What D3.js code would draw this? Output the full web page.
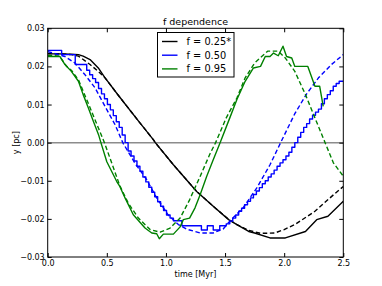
<!DOCTYPE html>
<html><head><meta charset="utf-8">
<script src="https://cdn.jsdelivr.net/npm/d3@7"></script>
<style>body{margin:0;background:#fff;}svg{display:block;font-family:"DejaVu Sans",sans-serif;}</style>
</head><body>
<script>
const title = "f dependence";
const xLabel = "time [Myr]";
const yLabel = "y [pc]";
const xTicks = [0.0, 0.5, 1.0, 1.5, 2.0, 2.5];
const yTicks = [-0.03, -0.02, -0.01, 0.0, 0.01, 0.02, 0.03];
const legendLabels = ["f = 0.25*", "f = 0.50", "f = 0.95"];
const colors = ["#000000", "#0000ff", "#008000"];

// f = 0.25* solid
const blackSolidT = [0, 0.1, 0.2, 0.26, 0.3, 0.358, 0.428, 0.485, 0.6, 0.78, 0.893, 0.91, 1.063, 1.26, 1.4, 1.53, 1.6, 1.7, 1.75, 1.88, 2.01, 2.18, 2.275, 2.37, 2.5];
const blackSolidY = [0.0233, 0.0233, 0.0232, 0.0231, 0.0227, 0.0218, 0.0196, 0.0170, 0.0123, 0.0052, 0.0008, 0.0, -0.0058, -0.0128, -0.0167, -0.0202, -0.0215, -0.0233, -0.0237, -0.0250, -0.0250, -0.0233, -0.0202, -0.0193, -0.0154];
// f = 0.25* dashed
const blackDashT = [0, 0.1, 0.2, 0.26, 0.358, 0.428, 0.485, 0.6, 0.78, 0.893, 0.91, 1.063, 1.26, 1.4, 1.53, 1.6, 1.7, 1.8, 1.92, 2.0, 2.09, 2.26, 2.42, 2.5];
const blackDashY = [0.0234, 0.0233, 0.0231, 0.0227, 0.0205, 0.0187, 0.0170, 0.0123, 0.0052, 0.0008, 0.0, -0.0058, -0.0128, -0.0167, -0.0201, -0.0215, -0.0230, -0.0238, -0.0237, -0.0228, -0.0215, -0.0180, -0.0136, -0.0115];
// f = 0.50 solid (stepped)
const blueSolidT = [0.000, 0.118, 0.233, 0.330, 0.355, 0.380, 0.405, 0.430, 0.455, 0.480, 0.505, 0.530, 0.555, 0.580, 0.605, 0.630, 0.655, 0.680, 0.705, 0.730, 0.755, 0.780, 0.805, 0.830, 0.855, 0.880, 0.905, 0.930, 0.955, 0.980, 1.005, 1.035, 1.063, 1.135, 1.300, 1.350, 1.400, 1.455, 1.510, 1.540, 1.565, 1.590, 1.615, 1.640, 1.665, 1.690, 1.715, 1.740, 1.765, 1.790, 1.815, 1.840, 1.865, 1.890, 1.915, 1.940, 1.965, 1.990, 2.015, 2.040, 2.065, 2.090, 2.115, 2.140, 2.165, 2.190, 2.215, 2.240, 2.265, 2.290, 2.315, 2.340, 2.365, 2.390, 2.415, 2.440, 2.465, 2.500];
const blueSolidY = [0.0242, 0.0231, 0.0205, 0.0190, 0.0178, 0.0168, 0.0158, 0.0142, 0.0128, 0.0115, 0.0100, 0.0086, 0.0071, 0.0055, 0.0040, 0.0020, 0.0000, -0.0022, -0.0035, -0.0048, -0.0062, -0.0075, -0.0090, -0.0103, -0.0117, -0.0130, -0.0142, -0.0155, -0.0167, -0.0178, -0.0190, -0.0198, -0.0205, -0.0218, -0.0229, -0.0218, -0.0229, -0.0218, -0.0213, -0.0206, -0.0198, -0.0190, -0.0180, -0.0172, -0.0163, -0.0154, -0.0145, -0.0136, -0.0127, -0.0118, -0.0108, -0.0100, -0.0090, -0.0082, -0.0072, -0.0062, -0.0053, -0.0045, -0.0035, -0.0025, -0.0012, 0.0000, 0.0014, 0.0027, 0.0040, 0.0050, 0.0062, 0.0072, 0.0080, 0.0088, 0.0102, 0.0115, 0.0126, 0.0136, 0.0148, 0.0155, 0.0161, 0.0161];
// f = 0.50 dashed
const blueDashT = [0, 0.146, 0.23, 0.316, 0.4, 0.485, 0.57, 0.635, 0.74, 0.837, 0.922, 1.02, 1.105, 1.176, 1.29, 1.4, 1.486, 1.54, 1.655, 1.77, 1.88, 1.97, 2.09, 2.19, 2.29, 2.4, 2.5];
const blueDashY = [0.0239, 0.0226, 0.0209, 0.0178, 0.0144, 0.0095, 0.0047, 0.0, -0.0055, -0.0097, -0.0145, -0.0190, -0.0215, -0.0227, -0.0237, -0.0237, -0.0226, -0.0206, -0.0170, -0.0118, -0.0058, 0.0, 0.0076, 0.0128, 0.0170, 0.0205, 0.0231];
// f = 0.95 solid
const greenSolidT = [0, 0.104, 0.146, 0.2, 0.26, 0.3, 0.344, 0.386, 0.43, 0.45, 0.5, 0.584, 0.61, 0.654, 0.724, 0.823, 0.88, 0.922, 0.944, 0.978, 1.063, 1.12, 1.147, 1.2, 1.246, 1.29, 1.345, 1.4, 1.458, 1.54, 1.6, 1.67, 1.74, 1.8, 1.84, 1.88, 1.91, 1.95, 1.99, 2.02, 2.064, 2.09, 2.2, 2.26, 2.3, 2.33];
const greenSolidY = [0.0226, 0.0226, 0.0205, 0.0187, 0.0161, 0.0126, 0.0091, 0.0056, 0.0021, 0.0, -0.0050, -0.0102, -0.0115, -0.0145, -0.0189, -0.0224, -0.0237, -0.0239, -0.0252, -0.0240, -0.0240, -0.0221, -0.0202, -0.0198, -0.0171, -0.0136, -0.0088, -0.0045, 0.0, 0.0065, 0.0113, 0.0161, 0.0196, 0.0200, 0.0226, 0.0226, 0.0235, 0.0228, 0.0253, 0.0226, 0.0222, 0.0200, 0.0200, 0.0148, 0.0148, 0.0095];
// f = 0.95 dashed
const greenDashT = [0, 0.1, 0.16, 0.2, 0.26, 0.3, 0.35, 0.4, 0.48, 0.61, 0.68, 0.767, 0.866, 0.95, 1.035, 1.12, 1.2, 1.29, 1.37, 1.42, 1.51, 1.6, 1.67, 1.75, 1.86, 1.95, 2.01, 2.09, 2.18, 2.26, 2.346, 2.416, 2.5];
const greenDashY = [0.0229, 0.0227, 0.0200, 0.0190, 0.0165, 0.0135, 0.0098, 0.0060, 0.0, -0.0113, -0.0158, -0.0198, -0.0228, -0.0235, -0.0224, -0.0198, -0.0150, -0.0088, -0.0031, 0.0, 0.0065, 0.0117, 0.0170, 0.0209, 0.0240, 0.0240, 0.0222, 0.0187, 0.0126, 0.0065, 0.0, -0.0053, -0.0088];

const W = 382, H = 286;
const m = {l: 47.7, r: 382 - 343.3, t: 28.3, b: 286 - 257};
const svg = d3.select("body").append("svg").attr("width", W).attr("height", H);
const x = d3.scaleLinear().domain([0, 2.5]).range([m.l, W - m.r]);
const y = d3.scaleLinear().domain([-0.03, 0.03]).range([H - m.b, m.t]);

const zip = (t, v) => t.map((d, i) => [d, v[i]]);
const line = d3.line().x(d => x(d[0])).y(d => y(d[1]));
const stepLine = d3.line().x(d => x(d[0])).y(d => y(d[1])).curve(d3.curveStepAfter);

// zero line
svg.append("line").attr("x1", x(0)).attr("x2", x(2.5)).attr("y1", y(0)).attr("y2", y(0))
  .attr("stroke", "#8c8c8c").attr("stroke-width", 1.5);

const dash = "4.5,2.6";
const series = [
  [blackSolidT, blackSolidY, colors[0], null, line],
  [blackDashT, blackDashY, colors[0], dash, line],
  [blueSolidT, blueSolidY, colors[1], null, stepLine],
  [blueDashT, blueDashY, colors[1], dash, line],
  [greenSolidT, greenSolidY, colors[2], null, line],
  [greenDashT, greenDashY, colors[2], dash, line]
];
svg.append("clipPath").attr("id", "c").append("rect")
  .attr("x", x(0)).attr("y", y(0.03)).attr("width", x(2.5) - x(0)).attr("height", y(-0.03) - y(0.03));
const g = svg.append("g").attr("clip-path", "url(#c)");
series.forEach(s => {
  g.append("path").attr("d", s[4](zip(s[0], s[1]))).attr("fill", "none")
    .attr("stroke", s[2]).attr("stroke-width", 1.4).attr("stroke-linejoin", "round")
    .attr("stroke-dasharray", s[3]);
});

// frame
svg.append("rect").attr("x", x(0)).attr("y", y(0.03)).attr("width", x(2.5) - x(0)).attr("height", y(-0.03) - y(0.03))
  .attr("fill", "none").attr("stroke", "#000").attr("stroke-width", 1);

const fmtY = d => (d < 0 ? "\u2212" : "") + Math.abs(d).toFixed(2);
const xAxis = d3.axisBottom(x).tickValues(xTicks).tickFormat(d => d.toFixed(1)).tickSizeInner(-4).tickSizeOuter(0).tickPadding(3.5);
const yAxis = d3.axisLeft(y).tickValues(yTicks).tickFormat(fmtY).tickSizeInner(-4).tickSizeOuter(0).tickPadding(3);
const xTop = d3.axisTop(x).tickValues(xTicks).tickFormat("").tickSizeInner(-4).tickSizeOuter(0);
const yRight = d3.axisRight(y).tickValues(yTicks).tickFormat("").tickSizeInner(-4).tickSizeOuter(0);
function style(sel) {
  sel.select(".domain").remove();
  sel.selectAll("text").attr("font-size", 8).attr("fill", "#000").attr("font-family", "DejaVu Sans");
  sel.selectAll("line").attr("stroke", "#000");
}
svg.append("g").attr("transform", `translate(0,${y(-0.03)})`).call(xAxis).call(style);
svg.append("g").attr("transform", `translate(${x(0)},0)`).call(yAxis).call(style);
svg.append("g").attr("transform", `translate(0,${y(0.03)})`).call(xTop).call(style);
svg.append("g").attr("transform", `translate(${x(2.5)},0)`).call(yRight).call(style);

svg.append("text").attr("x", (x(0) + x(2.5)) / 2).attr("y", 24.5).attr("text-anchor", "middle")
  .attr("font-size", 9.5).text(title);
svg.append("text").attr("x", (x(0) + x(2.5)) / 2).attr("y", 276.5).attr("text-anchor", "middle")
  .attr("font-size", 8).text(xLabel);
svg.append("text").attr("transform", `translate(18.5,${(y(0.03) + y(-0.03)) / 2}) rotate(-90)`)
  .attr("text-anchor", "middle").attr("font-size", 8).text(yLabel);

// legend
const lg = svg.append("g");
lg.append("rect").attr("x", 157.5).attr("y", 32.5).attr("width", 76.5).attr("height", 44.5)
  .attr("fill", "#fff").attr("stroke", "#000").attr("stroke-width", 1);
legendLabels.forEach((lab, i) => {
  const yy = 41.5 + i * 13.7;
  lg.append("line").attr("x1", 162).attr("x2", 177.5).attr("y1", yy).attr("y2", yy)
    .attr("stroke", colors[i]).attr("stroke-width", 1.4);
  lg.append("text").attr("x", 186.5).attr("y", yy + 3.5).attr("font-size", 9.8).text(lab);
});
</script>
</body></html>
